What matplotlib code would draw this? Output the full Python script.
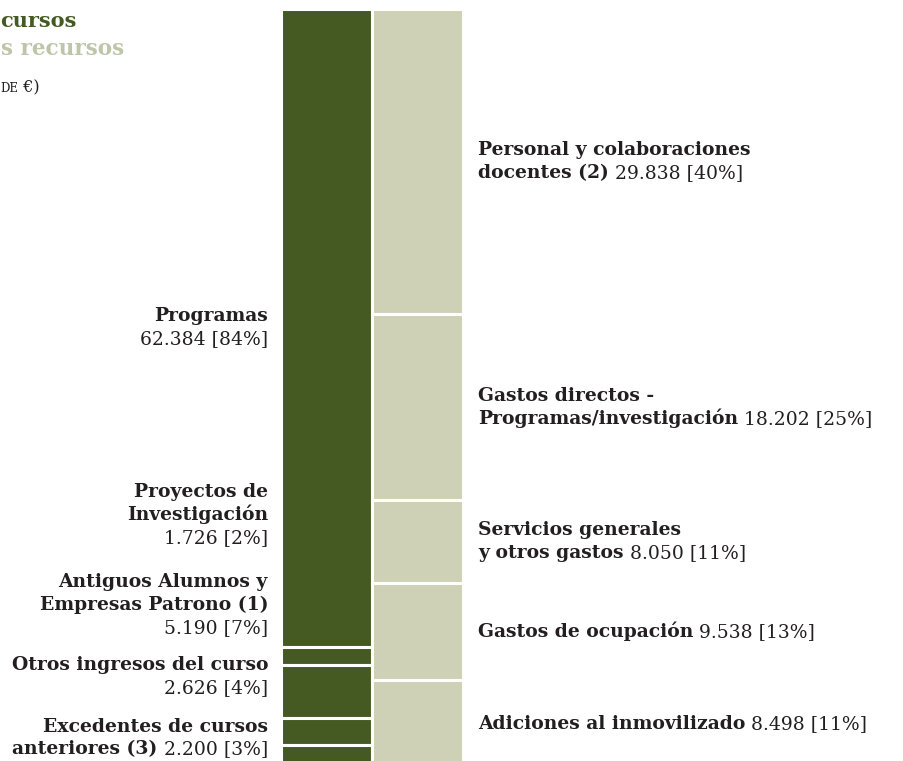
import matplotlib.pyplot as plt
import matplotlib.transforms as mtransforms

# Ingresos (recursos) - columna izquierda
ingresos_nombres = [
    ["Programas"],
    ["Proyectos de", "Investigación"],
    ["Antiguos Alumnos y", "Empresas Patrono (1)"],
    ["Otros ingresos del curso"],
    ["Excedentes de cursos", "anteriores (3)"],
]
ingresos_valores = [62384, 1726, 5190, 2626, 2200]
ingresos_pct = [84, 2, 7, 4, 3]
ingresos_valor_aparte = [True, True, True, True, False]

# Gastos (uso de los recursos) - columna derecha
gastos_nombres = [
    ["Personal y colaboraciones", "docentes (2)"],
    ["Gastos directos -", "Programas/investigación"],
    ["Servicios generales", "y otros gastos"],
    ["Gastos de ocupación"],
    ["Adiciones al inmovilizado"],
]
gastos_valores = [29838, 18202, 8050, 9538, 8498]
gastos_pct = [40, 25, 11, 13, 11]

# lo que se ve del titulo (la imagen esta recortada por la izquierda)
titulos = ["cursos", "s recursos"]

VERDE = "#455a22"
VERDE_CLARO = "#cfd1b6"
TITULO_CLARO = "#bec6aa"
TEXTO = "#231f20"
FS = 13.5
INTERLINEA = 23

plt.rcParams["font.family"] = "DejaVu Serif"

W, H = 904, 761
fig = plt.figure(figsize=(W / 100, H / 100), dpi=100)
ax = fig.add_axes([0, 0, 1, 1])
ax.set_axis_off()
ax.set_xlim(0, W)

top_px, bottom_px = 8.5, 767.5
total = sum(ingresos_valores)
escala = (bottom_px - top_px) / total
ax.set_ylim((H - top_px) / escala, -top_px / escala)


def acumulado(vals):
    out, s = [], 0
    for v in vals:
        out.append(s)
        s += v
    return out


ing_base = acumulado(ingresos_valores)
gas_base = acumulado(gastos_valores)

ax.bar(327, ingresos_valores, width=91, bottom=ing_base, color=VERDE,
       edgecolor="white", linewidth=2.2)
ax.bar(418, gastos_valores, width=91, bottom=gas_base, color=VERDE_CLARO,
       edgecolor="white", linewidth=2.2)

# coordenadas en pixeles desde arriba para los textos
px = mtransforms.Affine2D().scale(1, -1).translate(0, H)
renderer = fig.canvas.get_renderer()


def linea(x, y, partes, ha, color=TEXTO):
    textos = []
    for t, negrita, size in partes:
        textos.append(ax.text(0, y, t, transform=px, fontsize=size,
                              fontweight="bold" if negrita else "normal",
                              va="baseline", ha="left", color=color))
    anchos = [t.get_window_extent(renderer).width for t in textos]
    x0 = x if ha == "left" else x - sum(anchos)
    for t, w in zip(textos, anchos):
        t.set_x(x0)
        x0 += w


def fmt(v, p):
    return f"{v:,}".replace(",", ".") + f" [{p}%]"


def etiqueta(x, centro, nombre, valor, aparte, ha):
    lineas = [[(n, True, FS)] for n in nombre]
    if aparte:
        lineas.append([(valor, False, FS)])
    else:
        lineas[-1].append((" " + valor, False, FS))
    n = len(lineas)
    for i, l in enumerate(lineas):
        y = centro + (i - (n - 1) / 2) * INTERLINEA + 5
        linea(x, y, l, ha)


def centro_px(base, v):
    return H - ax.transData.transform((0, base + v / 2))[1]


# etiquetas derecha, centradas en cada bloque
for nombre, v, p, b in zip(gastos_nombres, gastos_valores, gastos_pct, gas_base):
    etiqueta(478, centro_px(b, v), nombre, fmt(v, p), False, "left")

# etiquetas izquierda: la primera centrada, las pequeñas apiladas
centros_izq = [centro_px(ing_base[0], ingresos_valores[0]), 515, 605, 676.5, 738]
for nombre, v, p, aparte, c in zip(ingresos_nombres, ingresos_valores,
                                   ingresos_pct, ingresos_valor_aparte, centros_izq):
    etiqueta(268, c, nombre, fmt(v, p), aparte, "right")

# titulo
linea(0, 27, [(titulos[0], True, 15)], "left", color=VERDE)
linea(1, 55, [(titulos[1], True, 15.5)], "left", color=TITULO_CLARO)
linea(0, 92, [("DE", False, 8.5), (" €)", False, 11.5)], "left")

fig.savefig("out.png", dpi=100)
